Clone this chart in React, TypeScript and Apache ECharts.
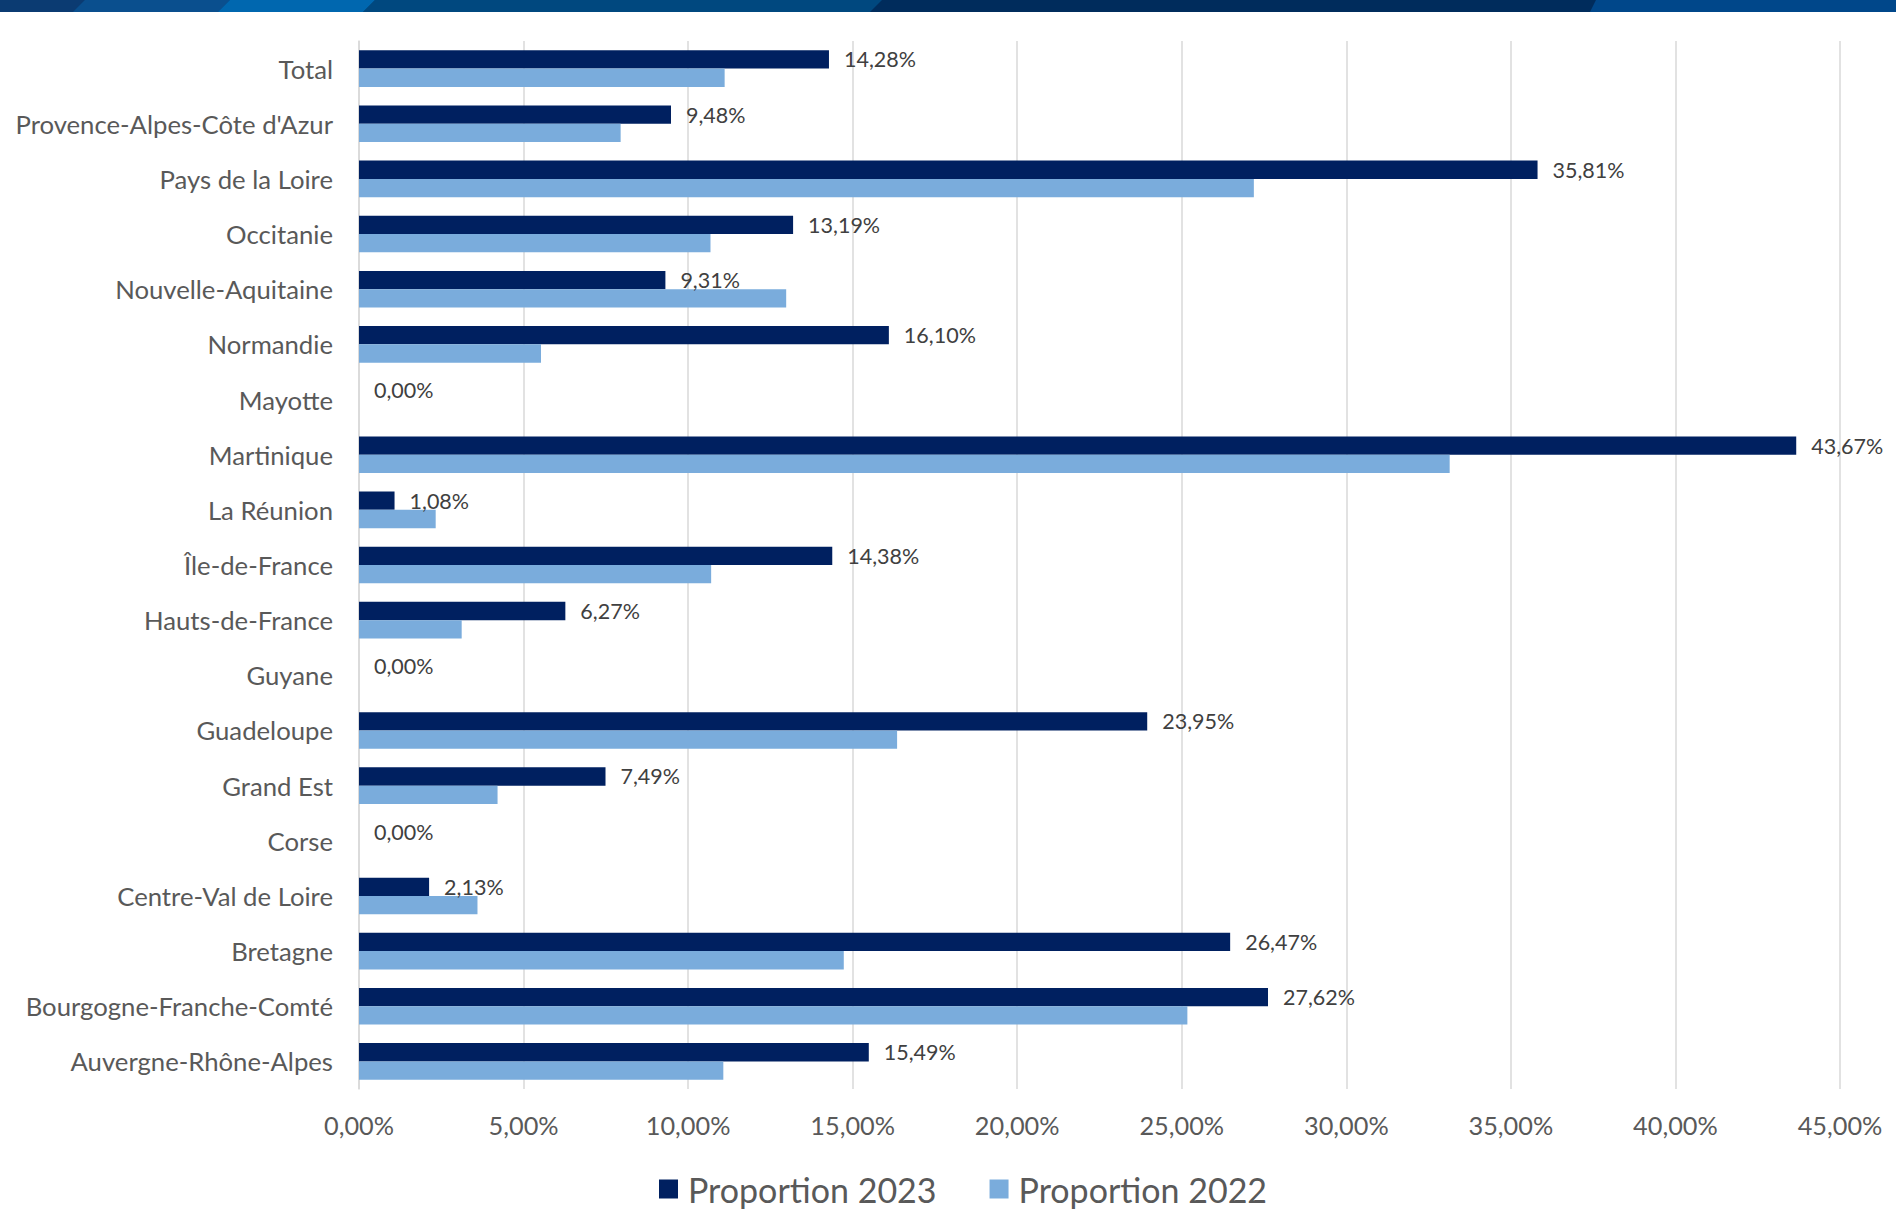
import React, { useEffect, useRef } from "react";
import * as echarts from "echarts";

const categories = [
  "Total",
  "Provence-Alpes-Côte d'Azur",
  "Pays de la Loire",
  "Occitanie",
  "Nouvelle-Aquitaine",
  "Normandie",
  "Mayotte",
  "Martinique",
  "La Réunion",
  "Île-de-France",
  "Hauts-de-France",
  "Guyane",
  "Guadeloupe",
  "Grand Est",
  "Corse",
  "Centre-Val de Loire",
  "Bretagne",
  "Bourgogne-Franche-Comté",
  "Auvergne-Rhône-Alpes",
];

const proportion2023 = [
  14.28, 9.48, 35.81, 13.19, 9.31, 16.1, 0, 43.67, 1.08, 14.38, 6.27, 0, 23.95, 7.49, 0, 2.13, 26.47, 27.62, 15.49,
];

const proportion2022 = [
  11.11, 7.95, 27.19, 10.68, 12.98, 5.53, 0, 33.14, 2.33, 10.7, 3.12, 0, 16.35, 4.21, 0, 3.6, 14.73, 25.17, 11.07,
];

const seriesNames = ["Proportion 2023", "Proportion 2022"];
const xTicks = { min: 0, max: 45, interval: 5 };

const fmt = (v: number) => v.toFixed(2).replace(".", ",") + "%";

export default function App() {
  const ref = useRef<HTMLDivElement>(null);
  useEffect(() => {
    if (!ref.current) return;
    const chart = echarts.init(ref.current, null, { renderer: "svg" });
    const font = "Lato, 'Open Sans', sans-serif";
    chart.setOption({
      animation: false,
      backgroundColor: "#ffffff",
      textStyle: { fontFamily: font },
      grid: { left: 359, right: 56, top: 41, bottom: 141, containLabel: false },
      legend: {
        data: seriesNames,
        top: 1167,
        left: 654,
        itemWidth: 19,
        itemHeight: 19,
        itemGap: 53,
        icon: "rect",
        textStyle: { fontSize: 34, color: "#595959", fontFamily: font, padding: [0, 0, 0, 5] },
      },
      xAxis: {
        type: "value",
        min: xTicks.min,
        max: xTicks.max,
        interval: xTicks.interval,
        axisLine: { show: false },
        axisTick: { show: false },
        splitLine: { show: true, lineStyle: { color: "#d9d9d9", width: 1.5 } },
        axisLabel: {
          formatter: (v: number) => fmt(v),
          fontSize: 25.3,
          color: "#595959",
          margin: 23,
          fontFamily: font,
        },
      },
      yAxis: {
        type: "category",
        data: categories,
        inverse: true,
        axisLine: { show: true, lineStyle: { color: "#d9d9d9", width: 1.5 } },
        axisTick: { show: false },
        axisLabel: {
          fontSize: 25.7,
          color: "#595959",
          margin: 26,
          fontFamily: font,
          padding: [0, 0, 4, 0],
        },
      },
      series: [
        {
          name: seriesNames[0],
          type: "bar",
          data: proportion2023,
          barWidth: 18.3,
          barGap: "0%",
          itemStyle: { color: "#002060" },
          label: {
            show: true,
            position: "right",
            distance: 15,
            formatter: (p: any) => fmt(p.value),
            fontSize: 21.5,
            color: "#404040",
            fontFamily: font,
          },
        },
        {
          name: seriesNames[1],
          type: "bar",
          data: proportion2022,
          barWidth: 18.3,
          barGap: "0%",
          itemStyle: { color: "#7aacdc" },
        },
      ],
      graphic: [
        { type: "rect", shape: { x: 0, y: 0, width: 1896, height: 12 }, style: { fill: "#00467f" }, z: 10 },
        { type: "polygon", shape: { points: [[0, 0], [85, 0], [73, 12], [0, 12]] }, style: { fill: "#0b3b72" }, z: 11 },
        { type: "polygon", shape: { points: [[85, 0], [230, 0], [218, 12], [73, 12]] }, style: { fill: "#0a4f8e" }, z: 11 },
        { type: "polygon", shape: { points: [[230, 0], [375, 0], [363, 12], [218, 12]] }, style: { fill: "#0067af" }, z: 11 },
        { type: "polygon", shape: { points: [[375, 0], [882, 0], [870, 12], [363, 12]] }, style: { fill: "#00487f" }, z: 11 },
        { type: "polygon", shape: { points: [[882, 0], [1596, 0], [1596, 12], [870, 12]] }, style: { fill: "#002c5c" }, z: 11 },
        { type: "polygon", shape: { points: [[1596, 0], [1896, 0], [1896, 12], [1590, 12]] }, style: { fill: "#00478a" }, z: 11 },
      ],
    });
    return () => chart.dispose();
  }, []);
  return (
    <div
      ref={ref}
      style={{ position: "absolute", left: 0, top: 0, width: 1896, height: 1230 }}
    />
  );
}
